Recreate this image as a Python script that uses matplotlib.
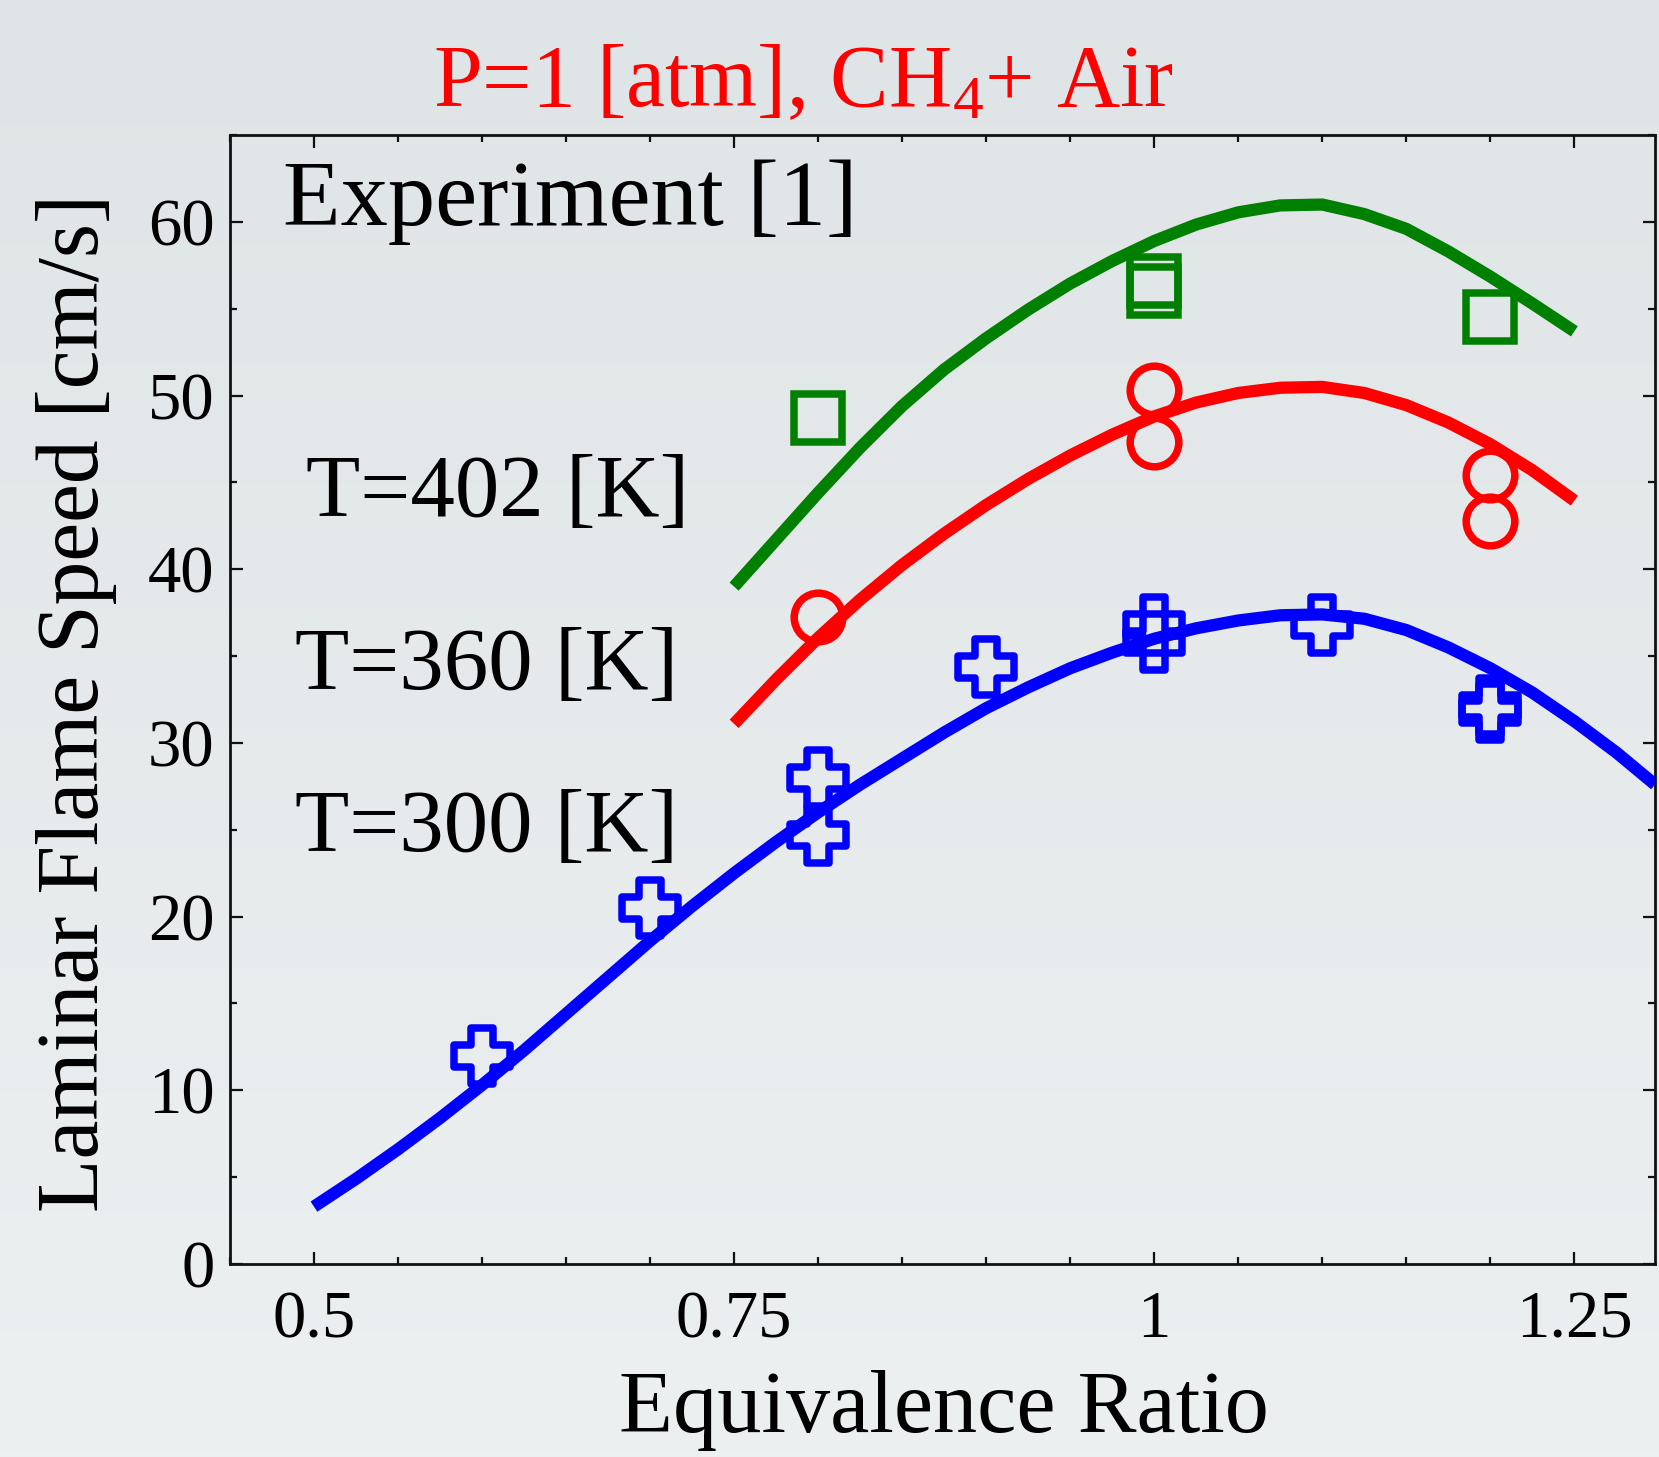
import numpy as np
import matplotlib
matplotlib.use("Agg")
import matplotlib.pyplot as plt
from matplotlib.path import Path
from matplotlib.markers import MarkerStyle
from matplotlib.ticker import FixedLocator, MultipleLocator, FixedFormatter
from matplotlib.colors import LinearSegmentedColormap

plt.rcParams['font.family'] = ['Liberation Serif', 'DejaVu Serif']
plt.rcParams['mathtext.fontset'] = 'custom'
plt.rcParams['mathtext.rm'] = 'Liberation Serif'
plt.rcParams['mathtext.it'] = 'Liberation Serif:italic'
plt.rcParams['mathtext.default'] = 'regular'

# ---- Data ----
# Model curves (equivalence ratio vs laminar flame speed, cm/s)
phi_300 = [0.500, 0.525, 0.550, 0.575, 0.600, 0.625, 0.650, 0.675, 0.700,
           0.725, 0.750, 0.775, 0.800, 0.825, 0.850, 0.875, 0.900, 0.925,
           0.950, 0.975, 1.000, 1.025, 1.050, 1.075, 1.100, 1.125, 1.150,
           1.175, 1.200, 1.225, 1.250, 1.275, 1.298]
sl_300 = [3.3, 4.9, 6.6, 8.4, 10.3, 12.3, 14.4, 16.5, 18.6,
          20.6, 22.5, 24.3, 26.0, 27.6, 29.1, 30.6, 32.0, 33.2,
          34.3, 35.2, 36.0, 36.6, 37.05, 37.35, 37.4, 37.15, 36.5,
          35.5, 34.3, 32.9, 31.25, 29.45, 27.6]

phi_360 = [0.750, 0.775, 0.800, 0.825, 0.850, 0.875, 0.900, 0.925, 0.950,
           0.975, 1.000, 1.025, 1.050, 1.075, 1.100, 1.125, 1.150, 1.175,
           1.200, 1.225, 1.250]
sl_360 = [31.1, 33.65, 36.05, 38.25, 40.25, 42.05, 43.7, 45.2, 46.55,
          47.75, 48.8, 49.6, 50.15, 50.45, 50.5, 50.15, 49.45, 48.45,
          47.2, 45.7, 43.95]

phi_402 = [0.750, 0.775, 0.800, 0.825, 0.850, 0.875, 0.900, 0.925, 0.950,
           0.975, 1.000, 1.025, 1.050, 1.075, 1.100, 1.125, 1.150, 1.175,
           1.200, 1.225, 1.250]
sl_402 = [39.0, 41.7, 44.4, 47.0, 49.4, 51.5, 53.3, 54.95, 56.45,
          57.75, 58.9, 59.85, 60.55, 60.95, 61.0, 60.45, 59.6, 58.3,
          56.85, 55.3, 53.7]

# Experiment [1]
exp_phi_300 = [0.6, 0.7, 0.8, 0.8, 0.9, 1.0, 1.0, 1.1, 1.2, 1.2]
exp_sl_300 = [12.0, 20.5, 28.0, 24.7, 34.4, 36.8, 35.8, 36.8, 32.1, 31.8]

exp_phi_360 = [0.8, 1.0, 1.0, 1.2, 1.2]
exp_sl_360 = [37.25, 50.3, 47.3, 45.4, 42.8]

exp_phi_402 = [0.8, 1.0, 1.0, 1.2]
exp_sl_402 = [48.7, 56.6, 56.0, 54.5]

xtick_vals = [0.5, 0.75, 1.0, 1.25]
xtick_labels = ["0.5", "0.75", "1", "1.25"]
ytick_vals = [0, 10, 20, 30, 40, 50, 60]

BLUE = "#0000ff"
RED = "#ff0000"
GREEN = "#008000"

# ---- Figure ----
fig = plt.figure(figsize=(16.59, 14.57), dpi=100)

# background gradient
bg = fig.add_axes([0, 0, 1, 1], zorder=-10)
cmap = LinearSegmentedColormap.from_list("bg", ["#dfe4e6", "#edf0f1"])
grad = np.linspace(0, 1, 256).reshape(-1, 1)
bg.imshow(grad, aspect="auto", cmap=cmap, extent=[0, 1, 0, 1], origin="upper")
bg.set_axis_off()

ax = fig.add_axes([0.1386, 0.1325, 0.9976 - 0.1386, 0.9073 - 0.1325])
ax.set_facecolor("none")

# outlined plus marker
a = 0.41
plus_verts = [(-a, -1), (a, -1), (a, -a), (1, -a), (1, a), (a, a), (a, 1),
              (-a, 1), (-a, a), (-1, a), (-1, -a), (-a, -a), (-a, -1)]
plus_path = Path(plus_verts, closed=True)
plus_marker = MarkerStyle(plus_path, joinstyle="miter")

mk = dict(linestyle="none", markerfacecolor="none", markeredgewidth=5.4, zorder=2)
ax.plot(exp_phi_300, exp_sl_300, marker=plus_marker, markersize=40,
        markeredgecolor=BLUE, **mk)
ax.plot(exp_phi_360, exp_sl_360, marker="o", markersize=35,
        markeredgecolor=RED, **mk)
ax.plot(exp_phi_402, exp_sl_402, marker=MarkerStyle("s", joinstyle="miter"),
        markersize=35, markeredgecolor=GREEN, **mk)

ln = dict(linewidth=8.8, solid_capstyle="butt", solid_joinstyle="round", zorder=3)
ax.plot(phi_300, sl_300, color=BLUE, **ln)
ax.plot(phi_360, sl_360, color=RED, **ln)
ax.plot(phi_402, sl_402, color=GREEN, **ln)

ax.set_xlim(0.45, 1.298)
ax.set_ylim(0, 65)

ax.xaxis.set_major_locator(FixedLocator(xtick_vals))
ax.xaxis.set_major_formatter(FixedFormatter(xtick_labels))
ax.xaxis.set_minor_locator(MultipleLocator(0.05))
ax.yaxis.set_major_locator(FixedLocator(ytick_vals))
ax.yaxis.set_minor_locator(MultipleLocator(5))

ax.tick_params(which="both", direction="in", top=True, right=True,
               width=1.6, color="#111111")
ax.tick_params(which="major", length=9)
ax.tick_params(which="minor", length=5)
ax.tick_params(axis="x", which="major", labelsize=48, pad=19)
ax.tick_params(axis="y", which="major", labelsize=48, pad=11)
for s in ax.spines.values():
    s.set_linewidth(2.0)
    s.set_color("#111111")

# texts
ax.text(0.037, 0.920, "Experiment [1]", transform=ax.transAxes,
        fontsize=68, ha="left", va="baseline", color="black")
ax.text(0.0535, 0.6626, "T=402 [K]", transform=ax.transAxes,
        fontsize=64, ha="left", va="baseline", color="black")
ax.text(0.046, 0.509, "T=360 [K]", transform=ax.transAxes,
        fontsize=64, ha="left", va="baseline", color="black")
ax.text(0.046, 0.3655, "T=300 [K]", transform=ax.transAxes,
        fontsize=64, ha="left", va="baseline", color="black")

fig.text(0.484, 0.9274, "P=1 [atm], CH$_{4}$+ Air", color=RED,
         fontsize=63, ha="center", va="baseline")
fig.text(0.569, 0.0175, "Equivalence Ratio", fontsize=63.5,
         ha="center", va="baseline")
fig.text(0.046, 0.5178, "Laminar Flame Speed [cm/s]", fontsize=63,
         rotation=90, ha="center", va="center")

fig.savefig("out.png", dpi=100)
